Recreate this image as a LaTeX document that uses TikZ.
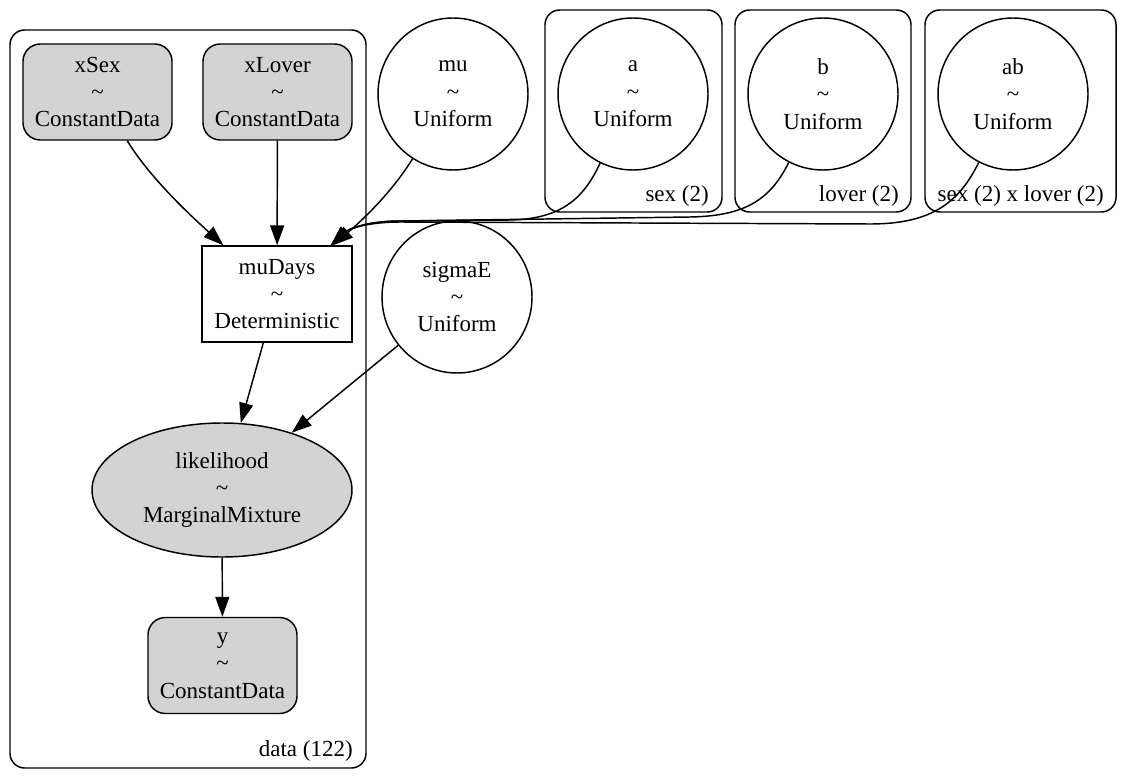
\documentclass[tikz,border=0pt]{standalone}
\usepackage{fontspec}
\setmainfont{Liberation Serif}
\usepackage{xcolor}
\usetikzlibrary{positioning,shapes.geometric,arrows.meta}
\definecolor{obsgray}{HTML}{D3D3D3}

\begin{document}
\begin{tikzpicture}[
  x=0.75pt, y=-0.75pt,
  every node/.style={font=\fontsize{17.25}{20.5}\selectfont, align=center, inner sep=0pt},
  obs/.style={draw, line width=1.1pt, fill=obsgray, rounded corners=13pt,
              minimum width=111.75pt, minimum height=72pt},
  det/.style={draw, line width=1.1pt, minimum width=112.5pt, minimum height=72pt},
  rv/.style={draw, line width=1.1pt, ellipse, minimum width=112.5pt, minimum height=114pt},
  plate/.style={draw, line width=1.1pt, rounded corners=11pt},
  edge/.style={-{Triangle[length=15pt, width=10.5pt]}, line width=1.1pt}
]
  \useasboundingbox (0,0) rectangle (1134,777);

  % plates
  \draw[plate] (10,30) rectangle (366,768);
  \draw[plate] (545,10) rectangle (722,212);
  \draw[plate] (735,10) rectangle (911,212);
  \draw[plate] (925,10) rectangle (1116,212);
  \node[anchor=base east] (lbldata) at (353,756) {data (122)};
  \node[anchor=base east] (lblsex) at (709,202) {sex (2)};
  \node[anchor=base east] (lbllover) at (899,202) {lover (2)};
  \node[anchor=base east] (lblboth) at (1104,202) {sex (2) x lover (2)};

  % nodes
  \node[obs] (xSex) at (97.5,92) {xSex\\\textasciitilde\\ConstantData};
  \node[obs] (xLover) at (277.5,92) {xLover\\\textasciitilde\\ConstantData};
  \node[rv] (mu) at (453,94) {mu\\\textasciitilde\\Uniform};
  \node[rv] (a) at (633,94) {a\\\textasciitilde\\Uniform};
  \node[rv] (b) at (823,94) {b\\\textasciitilde\\Uniform};
  \node[rv] (ab) at (1013,94) {ab\\\textasciitilde\\Uniform};
  \node[det] (muDays) at (277,294) {muDays\\\textasciitilde\\Deterministic};
  \node[rv] (sigmaE) at (457,297) {sigmaE\\\textasciitilde\\Uniform};
  \node[rv, fill=obsgray, minimum width=195pt, minimum height=100.5pt] (likelihood) at (222,490)
    {likelihood\\\textasciitilde\\MarginalMixture};
  \node[obs] (y) at (222.5,665.5) {y\\\textasciitilde\\ConstantData};

  % edges
  \draw[edge] (xSex) .. controls (150,178) and (190,215) .. (muDays);
  \draw[edge] (xLover) -- (muDays);
  \draw[edge] (mu) .. controls (390,195) and (360,222) .. (muDays);
  \draw[edge] (a) .. controls (585,195) and (565,219) .. (510,220) -- (400,221)
    .. controls (370,221) and (350,228) .. (muDays);
  \draw[edge] (b) .. controls (770,200) and (745,216) .. (690,217) -- (400,221)
    .. controls (370,221) and (350,228) .. (muDays);
  \draw[edge] (ab) .. controls (960,200) and (935,224) .. (870,224) -- (400,222)
    .. controls (370,222) and (350,228) .. (muDays);
  \draw[edge] (muDays) -- (likelihood);
  \draw[edge] (sigmaE) -- (likelihood);
  \draw[edge] (likelihood) -- (y);
\end{tikzpicture}
\end{document}
